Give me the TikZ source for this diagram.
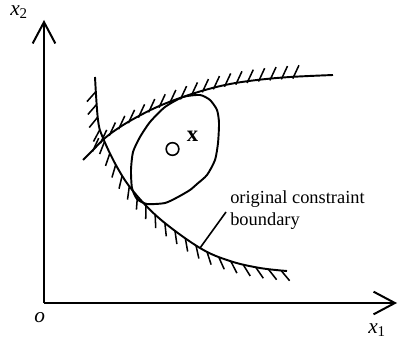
\documentclass[tikz,border=0pt]{standalone}
\usepackage{fontspec}
\setmainfont{Liberation Serif}
\usetikzlibrary{arrows.meta,decorations.markings}
\tikzset{
  axis/.style={line width=1.5pt, -{Straight Barb[length=16pt,width=17pt,line width=1.5pt]}},
  curve/.style={line width=1.45pt},
  hatchlow/.style={postaction={decorate}, decoration={markings,
      mark=between positions 11pt and -3pt step 9.6pt with {\draw[line width=1.15pt] (0,0) -- (-45:10pt);}}},
  hatchup/.style={postaction={decorate}, decoration={markings,
      mark=between positions 11pt and -22pt step 8.6pt with {\pgftransformresetnontranslations\draw[line width=1.15pt] (245:1.5pt) -- (65:9.5pt);}}},
  axlabel/.style={font=\fontsize{16}{18}\selectfont, inner sep=0pt, anchor=base west},
  txt/.style={font=\fontsize{13.8}{16}\selectfont, inner sep=0pt, anchor=base west},
}
\begin{document}
\begin{tikzpicture}[x=0.75pt,y=-0.75pt]
\useasboundingbox (0,0) rectangle (398,342);
% axes
\coordinate (O) at (44,303);
\coordinate (Ytip) at (44,20);
\coordinate (Xtip) at (397,303);
\draw[axis] (O) -- (Ytip);
\draw[axis] (O) -- (Xtip);
\node[axlabel] (lx2) at (10,15.5) {\itshape x\textsubscript{\upshape 2}};
\node[axlabel] (lo) at (34,322) {\itshape o};
\node[axlabel] (lx1) at (368,333) {\itshape x\textsubscript{\upshape 1}};
% upper constraint
\draw[curve, hatchup] plot[smooth, tension=0.6] coordinates {(83,160) (93,150) (105,138) (120,127) (137,117) (157,107) (180,98) (205,90) (230,84) (257,80) (290,77) (333,75)};
% left / lower constraint
\draw[curve, hatchlow] plot[smooth, tension=0.6] coordinates {(95,77) (98,120) (103,138) (117,167) (133,191) (160,219) (200,248) (230,261) (260,268) (287,271)};
% feasible region
\draw[curve] plot[smooth cycle, tension=0.4] coordinates {(137,199) (132,188) (131,170) (133,152) (140,137) (150,122) (165,107) (183,97) (200,95) (210,100) (217,110) (219,123) (218,143) (215,160) (207,175) (197,184) (190,190) (178,197) (165,203) (147,204)};
% point x
\node[draw, circle, line width=1.2pt, minimum size=9.5pt, inner sep=0pt] (pt) at (172.5,149) {};
\node[font=\fontsize{17}{19}\selectfont\bfseries, inner sep=0pt, anchor=base west] (lbx) at (186.5,141) {x};
% label
\node[txt] (t1) at (230,203) {original constraint};
\node[txt] (t2) at (230,225) {boundary};
\coordinate (pa) at (200,248);
\coordinate (pb) at (226,212);
\draw[line width=1.2pt] (pa) -- (pb);
\end{tikzpicture}
\end{document}
